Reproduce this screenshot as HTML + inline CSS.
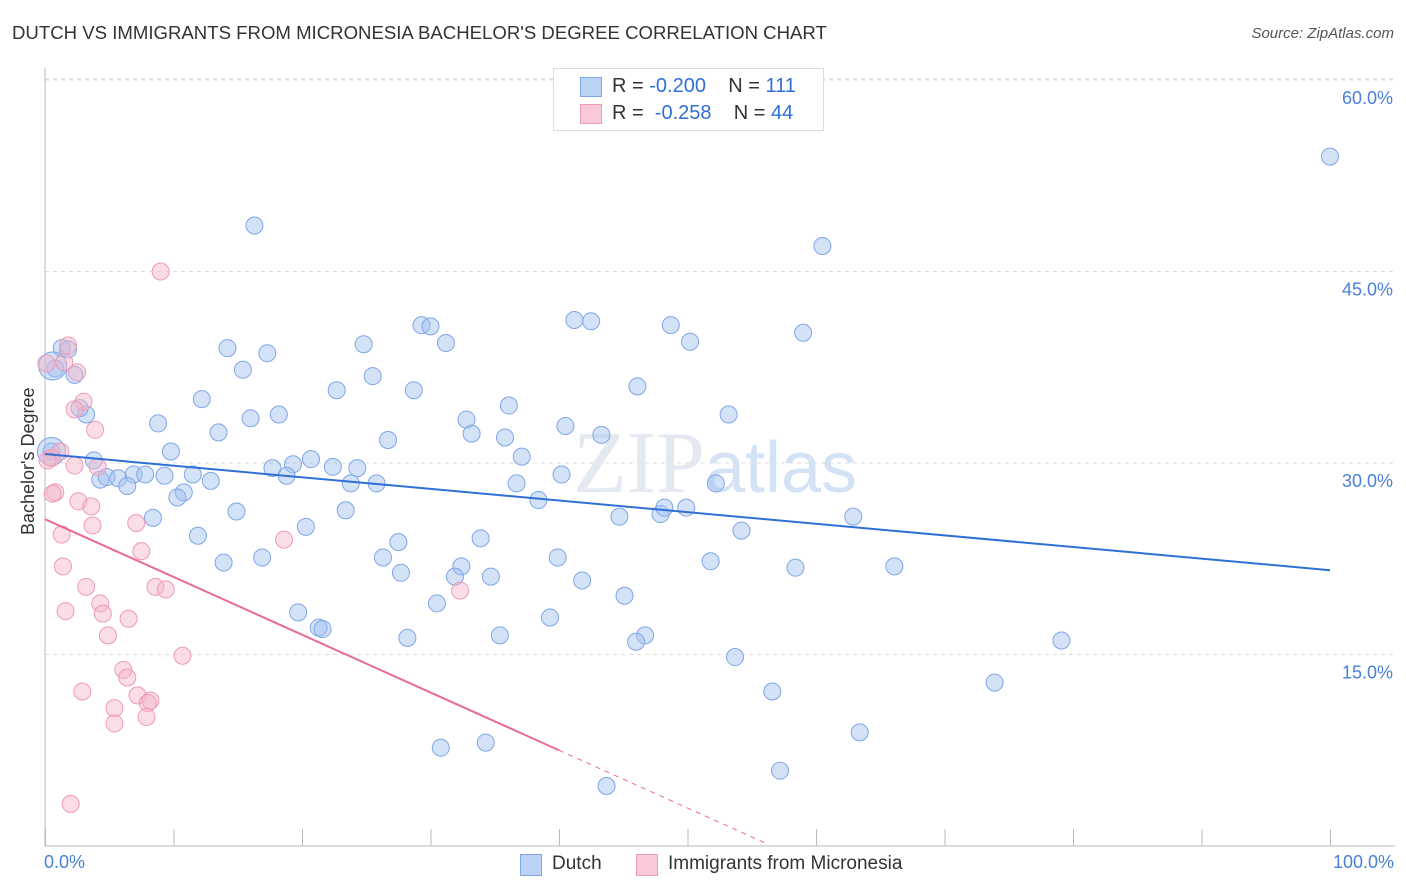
<!DOCTYPE html>
<html><head><meta charset="utf-8"><style>
body{margin:0;background:#fff;font-family:"Liberation Sans",sans-serif}
#wrap{position:relative;width:1406px;height:892px;overflow:hidden}
.t{position:absolute;white-space:nowrap}
</style></head><body>
<div id="wrap">
<div class="t" style="left:12px;top:22px;font-size:18.6px;color:#333">DUTCH VS IMMIGRANTS FROM MICRONESIA BACHELOR'S DEGREE CORRELATION CHART</div>
<div class="t" style="right:12px;top:25px;font-size:15px;color:#555;font-style:italic">Source: ZipAtlas.com</div>
<svg id="svg" width="1406" height="892" style="position:absolute;left:0;top:0"></svg>
</div>
<script>
const dutchX=[100,16.3,60.5,41.2,42.5,29.3,30.0,48.7,59.0,1.3,1.8,14.2,24.8,31.2,50.2,17.3,0.8,2.3,15.4,25.5,22.7,28.7,46.1,3.2,2.7,12.2,36.1,16.0,18.2,53.2,8.8,32.8,40.5,13.5,33.2,26.7,35.8,43.3,0.5,9.8,3.8,37.1,17.7,20.7,19.3,22.4,24.3,4.3,4.8,5.7,6.9,7.8,9.3,11.5,12.9,18.8,6.4,23.8,25.8,36.7,52.2,40.2,10.8,10.3,38.4,14.9,23.4,8.4,44.7,47.9,48.2,49.9,62.9,20.3,54.2,11.9,27.5,33.9,26.3,16.9,13.9,39.9,51.8,32.4,31.9,27.7,34.7,66.1,58.4,41.8,45.1,30.5,19.7,39.3,21.3,21.6,28.2,35.4,46.7,46.0,79.1,53.7,73.9,56.6,63.4,30.8,34.3,57.2,43.7];
const dutchY=[54.0,48.6,47.0,41.2,41.1,40.8,40.7,40.8,40.2,39.0,38.9,39.0,39.3,39.4,39.5,38.6,37.4,36.9,37.3,36.8,35.7,35.7,36.0,33.8,34.3,35.0,34.5,33.5,33.8,33.8,33.1,33.4,32.9,32.4,32.3,31.8,32.0,32.2,30.9,30.9,30.2,30.5,29.6,30.3,29.9,29.7,29.6,28.7,28.9,28.8,29.1,29.1,29.0,29.1,28.6,29.0,28.2,28.4,28.4,28.4,28.4,29.1,27.7,27.3,27.1,26.2,26.3,25.7,25.8,26.0,26.5,26.5,25.8,25.0,24.7,24.3,23.8,24.1,22.6,22.6,22.2,22.6,22.3,21.9,21.1,21.4,21.1,21.9,21.8,20.8,19.6,19.0,18.3,17.9,17.1,17.0,16.3,16.5,16.5,16.0,16.1,14.8,12.8,12.1,8.9,7.7,8.1,5.9,4.7];
const microX=[9.0,1.8,1.5,2.5,3.0,2.3,3.9,1.2,0.5,0.2,2.3,4.1,0.8,0.6,2.6,3.6,1.3,3.7,7.1,7.5,18.6,1.4,3.2,8.6,9.4,32.3,4.3,1.6,4.5,6.5,4.9,10.7,6.1,6.4,2.9,7.2,8.2,8.0,5.4,7.9,5.4,2.0,0.1];
const microY=[45.0,39.2,37.9,37.1,34.8,34.2,32.6,30.9,30.4,30.2,29.8,29.7,27.7,27.6,27.0,26.6,24.4,25.1,25.3,23.1,24.0,21.9,20.3,20.3,20.1,20.0,19.0,18.4,18.2,17.8,16.5,14.9,13.8,13.2,12.1,11.8,11.4,11.2,10.8,10.1,9.6,3.3,37.8];
const bigDutchX=[0.6,0.5], bigDutchY=[37.6,30.9];
const dutchTrend=[30.7,21.6];
const microTrend=[25.6,-0.4525];
const microSolidEnd=40, microDashEnd=56;
const yTicks=[15,30,45,60];
const yTickLabels=["15.0%","30.0%","45.0%","60.0%"];
const xTicks=[0,10,20,30,40,50,60,70,80,90,100];

const X0=45,X1=1330,Y0=846,PX=(1330-45)/100,PY=12.767;
const sx=v=>X0+v*PX, sy=v=>Y0-v*PY;
const svg=document.getElementById('svg');const NS='http://www.w3.org/2000/svg';
function mk(tag,attrs,parent){const e=document.createElementNS(NS,tag);for(const k in attrs)e.setAttribute(k,attrs[k]);(parent||svg).appendChild(e);return e;}
yTicks.forEach((t,i)=>{
 const g=mk('line',{x1:X0,x2:1395,y1:sy(t),y2:sy(t),stroke:'#ddd','stroke-dasharray':'4,4'});
 
 
 const tx=mk('text',{x:1393,y:sy(t)+24,'text-anchor':'end','font-size':18,fill:'#4a80d8','font-family':'Liberation Sans'});
 tx.textContent=yTickLabels[i];
 
 
});
const topGrid=mk('line',{x1:X0,x2:1395,y1:79,y2:79,stroke:'#ddd','stroke-dasharray':'4,4'});


const ya=mk('line',{x1:X0,x2:X0,y1:68,y2:Y0,stroke:'#bbb'});


const xa=mk('line',{x1:X0,x2:1395,y1:Y0,y2:Y0,stroke:'#bbb'});


xTicks.forEach(t=>{const l=mk('line',{x1:sx(t)+0.5,x2:sx(t)+0.5,y1:Y0-17,y2:Y0,stroke:'#bbb'});
 
 });
const wm=mk('text',{x:715,y:492,'text-anchor':'middle','font-size':88,fill:'#e4e9f1','font-family':'Liberation Serif'});
wm.innerHTML='ZIP<tspan font-family="Liberation Sans" font-size="72" fill="#d4e2f5">atlas</tspan>';


dutchX.forEach((x,i)=>{const c=mk('circle',{cx:sx(x),cy:sy(dutchY[i]),r:8.5,fill:'rgba(160,190,240,0.45)',stroke:'#7fa6e6','stroke-width':1});
 
 });
bigDutchX.forEach((x,i)=>{const c=mk('circle',{cx:sx(x),cy:sy(bigDutchY[i]),r:14,fill:'rgba(160,190,240,0.45)',stroke:'#7fa6e6','stroke-width':1});
 
 });
microX.forEach((x,i)=>{const c=mk('circle',{cx:sx(x),cy:sy(microY[i]),r:8.5,fill:'rgba(245,180,200,0.45)',stroke:'#ef9ab8','stroke-width':1});
 
 });
const bt=mk('line',{x1:sx(0),y1:sy(dutchTrend[0]),x2:sx(100),y2:sy(dutchTrend[1]),stroke:'#2f6fd6','stroke-width':2});


const pf=x=>microTrend[0]+microTrend[1]*x;
const pt=mk('line',{x1:sx(0),y1:sy(pf(0)),x2:sx(microSolidEnd),y2:sy(pf(microSolidEnd)),stroke:'#e8699a','stroke-width':2});


const pd=mk('line',{x1:sx(microSolidEnd),y1:sy(pf(microSolidEnd)),x2:sx(microDashEnd),y2:sy(pf(microDashEnd)),stroke:'#e8699a','stroke-width':1,'stroke-dasharray':'5,5'});


</script>
<div class="t" style="left:18px;top:535px;transform:rotate(-90deg);transform-origin:0 0;font-size:18px;color:#333">Bachelor's Degree</div>
<div class="t" style="left:44px;top:852px;font-size:18px;color:#4a80d8">0.0%</div>
<div class="t" style="right:12px;top:852px;font-size:18px;color:#4a80d8">100.0%</div>
<div style="position:absolute;left:553px;top:68px;width:269px;height:61px;border:1px solid #ddd;background:#fff;font-size:20px;color:#333">
 <div style="position:absolute;left:26px;top:8px;width:20px;height:18px;background:#bcd2f5;border:1px solid #7fa6e6"></div>
 <div class="t" style="left:58px;top:6px">R = <span style="color:#2f6fd6">-0.200</span>&nbsp;&nbsp;&nbsp; N = <span style="color:#2f6fd6">111</span></div>
 <div style="position:absolute;left:26px;top:35px;width:20px;height:18px;background:#f9c9d8;border:1px solid #ef9ab8"></div>
 <div class="t" style="left:58px;top:33px">R = &nbsp;<span style="color:#2f6fd6">-0.258</span>&nbsp;&nbsp;&nbsp; N = <span style="color:#2f6fd6">44</span></div>
</div>
<div style="position:absolute;left:520px;top:854px;width:20px;height:20px;background:#bcd2f5;border:1px solid #7fa6e6"></div>
<div class="t" style="left:552px;top:853px;font-size:19px;color:#333">Dutch</div>
<div style="position:absolute;left:636px;top:854px;width:20px;height:20px;background:#f9c9d8;border:1px solid #ef9ab8"></div>
<div class="t" style="left:668px;top:853px;font-size:19px;color:#333">Immigrants from Micronesia</div>
</body></html>
